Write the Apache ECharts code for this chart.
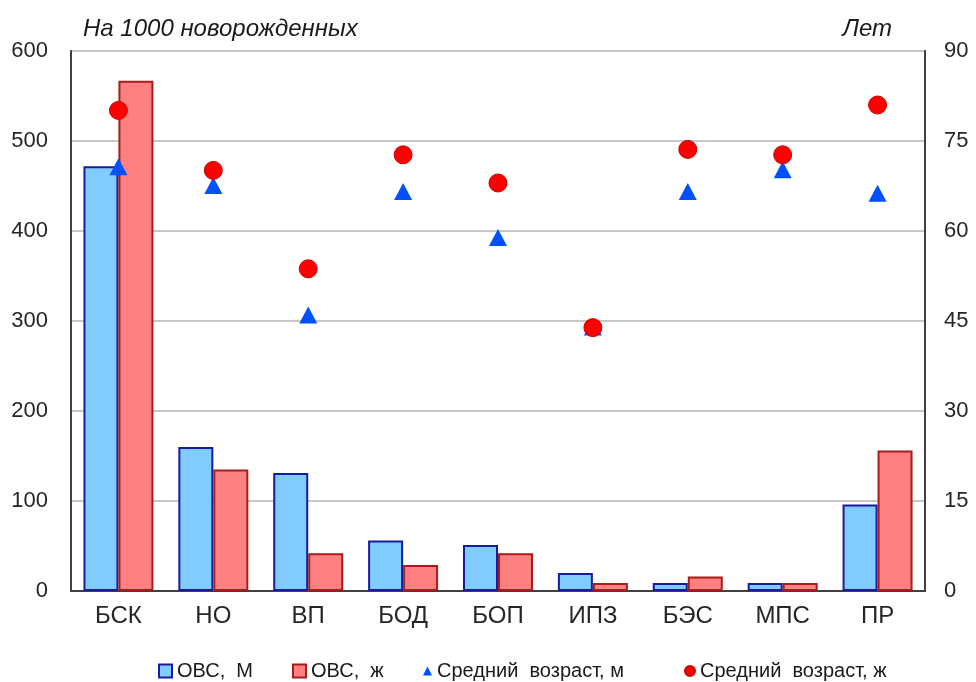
<!DOCTYPE html>
<html>
<head>
<meta charset="utf-8">
<script src="https://cdn.jsdelivr.net/npm/echarts@6/dist/echarts.min.js"></script>
<style>html,body{margin:0;padding:0;background:#fff}#c{width:976px;height:682px}</style>
</head>
<body>
<div id="c"></div>
<script>
var categories = ['БСК','НО','ВП','БОД','БОП','ИПЗ','БЭС','МПС','ПР'];
var ovsM = [472, 160, 131, 56, 51, 20, 9, 9, 96];
var ovsF = [567, 135, 42, 29, 42, 9, 16, 9, 156];
var ageM = [70.7, 67.6, 46.0, 66.6, 58.9, 44.0, 66.6, 70.2, 66.3];
var ageF = [80.1, 70.1, 53.7, 72.7, 68.0, 43.9, 73.6, 72.7, 81.0];
var leftTicks = {min: 0, max: 600, interval: 100};
var rightTicks = {min: 0, max: 90, interval: 15};
var seriesNames = ['ОВС,  М', 'ОВС,  ж', 'Средний  возраст, м', 'Средний  возраст, ж'];

var FONT = '"Liberation Sans", Arial, sans-serif';
var legendText = {fontSize: 20, color: '#1a1a1a', fontFamily: FONT};
function oneLegend(i, x, icon, w, h) {
  return {left: x, top: 661, padding: 0, itemWidth: w, itemHeight: h, itemGap: 0,
          textStyle: legendText, data: [{name: seriesNames[i], icon: icon}]};
}
var chart = echarts.init(document.getElementById('c'), null, {renderer: 'canvas'});
chart.setOption({
  animation: false,
  backgroundColor: '#ffffff',
  textStyle: {fontFamily: FONT},
  title: [
    {text: 'На 1000 новорожденных', left: 78, top: 12,
     textStyle: {fontSize: 24, fontStyle: 'italic', fontWeight: 'normal', color: '#1a1a1a', fontFamily: FONT}},
    {text: 'Лет', right: 79, top: 12,
     textStyle: {fontSize: 24, fontStyle: 'italic', fontWeight: 'normal', color: '#1a1a1a', fontFamily: FONT}}
  ],
  grid: {left: 71, right: 51, top: 51, bottom: 91, show: true, borderColor: '#8c8c8c', borderWidth: 2},
  legend: [
    oneLegend(0, 158, 'rect', 13, 13),
    oneLegend(1, 292, 'rect', 13, 13),
    oneLegend(2, 423, 'triangle', 9, 9),
    oneLegend(3, 684, 'circle', 10, 10)
  ],
  xAxis: {
    type: 'category', data: categories,
    axisLine: {show: true, lineStyle: {color: '#404040', width: 2}},
    axisTick: {show: false},
    axisLabel: {fontSize: 24, color: '#262626', margin: 13, fontFamily: FONT}
  },
  yAxis: [
    {type: 'value', min: leftTicks.min, max: leftTicks.max, interval: leftTicks.interval,
     axisLine: {show: true, lineStyle: {color: '#404040', width: 2}},
     axisTick: {show: false},
     axisLabel: {fontSize: 22, color: '#262626', margin: 23, fontFamily: FONT},
     splitLine: {show: true, lineStyle: {color: '#c8c8c8', width: 2}}},
    {type: 'value', min: rightTicks.min, max: rightTicks.max, interval: rightTicks.interval,
     axisLine: {show: true, lineStyle: {color: '#404040', width: 2}},
     axisTick: {show: false},
     axisLabel: {fontSize: 22, color: '#262626', margin: 19, fontFamily: FONT},
     splitLine: {show: false}}
  ],
  series: [
    {name: seriesNames[0], type: 'bar', data: ovsM, barWidth: 35, barGap: '0%',
     itemStyle: {color: '#80ccff', borderColor: '#1a1a9e', borderWidth: 2}},
    {name: seriesNames[1], type: 'bar', data: ovsF, barWidth: 35,
     itemStyle: {color: '#ff8080', borderColor: '#a81c1c', borderWidth: 2}},
    {name: seriesNames[2], type: 'scatter', yAxisIndex: 1, data: ageM, symbol: 'triangle', symbolSize: [18, 17],
     itemStyle: {color: '#0050ff', opacity: 1}, z: 5},
    {name: seriesNames[3], type: 'scatter', yAxisIndex: 1, data: ageF, symbol: 'circle', symbolSize: 18,
     itemStyle: {color: '#ff0000', borderColor: '#cc0000', borderWidth: 1, opacity: 1}, z: 6}
  ]
});
</script>
</body>
</html>
